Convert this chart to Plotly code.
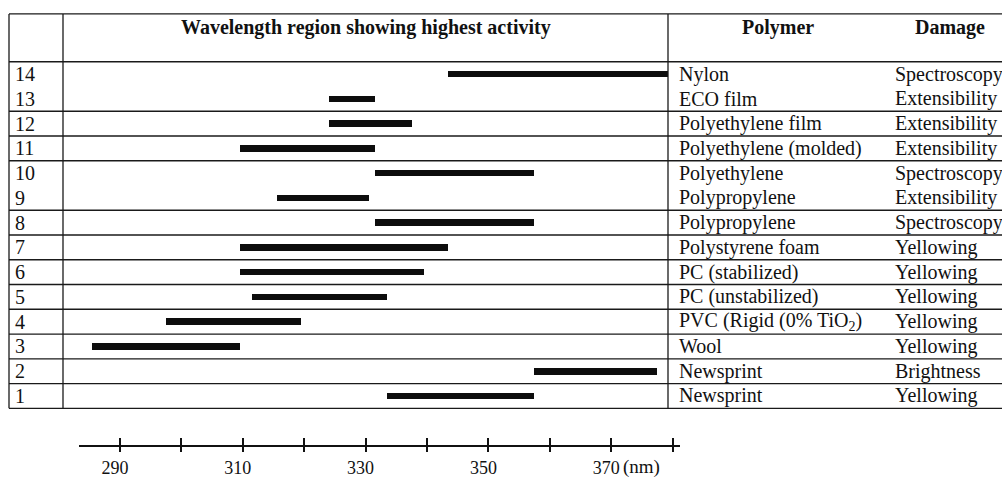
import plotly.graph_objects as go

# ---------------- data ----------------
rows = [14, 13, 12, 11, 10, 9, 8, 7, 6, 5, 4, 3, 2, 1]
polymers = ["Nylon", "ECO film", "Polyethylene film", "Polyethylene (molded)",
            "Polyethylene", "Polypropylene", "Polypropylene", "Polystyrene foam",
            "PC (stabilized)", "PC (unstabilized)", "PVC (Rigid (0% TiO<sub>2</sub>)",
            "Wool", "Newsprint", "Newsprint"]
damage = ["Spectroscopy", "Extensibility", "Extensibility", "Extensibility",
          "Spectroscopy", "Extensibility", "Spectroscopy", "Yellowing",
          "Yellowing", "Yellowing", "Yellowing", "Yellowing", "Brightness", "Yellowing"]
wl_start = [343.5, 324.0, 324.0, 309.5, 331.5, 315.5, 331.5, 309.5,
            309.5, 311.5, 297.5, 285.5, 357.5, 333.5]
wl_end = [379.2, 331.5, 337.5, 331.5, 357.5, 330.5, 357.5, 343.5,
          339.5, 333.5, 319.5, 309.5, 377.5, 357.5]
# rows sharing one table cell
cell_groups = [[14, 13], [12], [11], [10, 9], [8], [7], [6], [5], [4], [3], [2], [1]]

all_ticks = [290, 300, 310, 320, 330, 340, 350, 360, 370, 380]
label_ticks = [290, 310, 330, 350, 370]
label_text = ["290", "310", "330", "350", "370"]

header_main = "Wavelength region showing highest activity"
header_poly = "Polymer"
header_dmg = "Damage"

# ---------------- geometry / style ----------------
W, H = 1002, 478
FONT = "Liberation Serif, Times New Roman, serif"
FS = 20
AFS = 18
TXT = "#111"
LINE = dict(color="#1a1a1a", width=1.3)

px_per_row = 24.857
row_bottom_px = 410
y_top = 0.5 + row_bottom_px / px_per_row
y_bot = 0.5 - (H - row_bottom_px) / px_per_row
header_top = y_top - 14 / px_per_row

px_per_nm = 6.14
x_lo = 290 + (79 - 120) / px_per_nm
x_hi = 290 + (680 - 120) / px_per_nm
dom = [79 / W, 680 / W]
axis_pos = (H - 448) / H

fig = go.Figure()
fig.add_trace(go.Bar(
    y=rows, base=wl_start, x=[e - s for s, e in zip(wl_start, wl_end)],
    orientation="h", width=0.27, marker=dict(color="#0d0d0d", line=dict(width=0)),
    hoverinfo="skip", showlegend=False, xaxis="x", yaxis="y"))
# invisible companion trace so the tick-cross axis renders
fig.add_trace(go.Scatter(x=wl_start, y=rows, mode="markers", marker=dict(opacity=0),
                         hoverinfo="skip", showlegend=False, xaxis="x2", yaxis="y"))

shapes = []
bounds = [min(g) - 0.5 for g in cell_groups] + [max(rows) + 0.5, header_top]
for b in bounds:
    shapes.append(dict(type="line", xref="paper", yref="y", x0=9 / W, x1=1.0,
                       y0=b, y1=b, line=LINE))
for xp in [9, 63, 668]:
    shapes.append(dict(type="line", xref="paper", yref="y", x0=xp / W, x1=xp / W,
                       y0=min(rows) - 0.5, y1=header_top, line=LINE))

ann = []
for r, p, d in zip(rows, polymers, damage):
    for txt, xp in [(str(r), 13), (p, 677), (d, 893)]:
        ann.append(dict(text=txt, xref="paper", yref="y", x=xp / W, y=r,
                        xanchor="left", yanchor="middle", showarrow=False,
                        font=dict(family=FONT, size=FS, color=TXT)))
hy = 1 - 28 / H
for txt, xc in [(header_main, 366), (header_poly, 778), (header_dmg, 950)]:
    ann.append(dict(text="<b>%s</b>" % txt, xref="paper", yref="paper", x=xc / W, y=hy,
                    xanchor="center", yanchor="middle", showarrow=False,
                    font=dict(family=FONT, size=FS, color=TXT)))
ann.append(dict(text="(nm)", xref="x", yref="paper", x=370, y=1 - 469 / H,
                xanchor="left", yanchor="middle", xshift=10, showarrow=False,
                font=dict(family=FONT, size=AFS + 1, color=TXT)))

tick_style = dict(tickwidth=1.5, tickcolor="#111")
fig.update_layout(
    width=W, height=H, autosize=False,
    margin=dict(l=0, r=0, t=0, b=0),
    paper_bgcolor="white", plot_bgcolor="rgba(0,0,0,0)",
    bargap=0, showlegend=False,
    xaxis=dict(domain=dom, range=[x_lo, x_hi], anchor="free", position=axis_pos,
               showline=True, linecolor="#111", linewidth=2, showgrid=False,
               zeroline=False, ticks="outside", ticklen=5, **tick_style,
               tickvals=label_ticks, ticktext=label_text, ticklabelshift=-5,
               minor=dict(tick0=290, dtick=10, ticks="outside", ticklen=5,
                          showgrid=False, **tick_style),
               tickfont=dict(family=FONT, size=AFS, color=TXT), fixedrange=True),
    xaxis2=dict(domain=dom, range=[x_lo, x_hi], anchor="free", position=axis_pos,
                overlaying="x", showline=False, showgrid=False, zeroline=False,
                ticks="inside", ticklen=8, **tick_style,
                tickvals=all_ticks, showticklabels=False, fixedrange=True),
    yaxis=dict(domain=[0, 1], range=[y_bot, y_top], visible=False, fixedrange=True),
    shapes=shapes, annotations=ann,
)
fig.write_html("out.html", config={"displayModeBar": False},
               post_script="document.body.style.margin='0px';")
